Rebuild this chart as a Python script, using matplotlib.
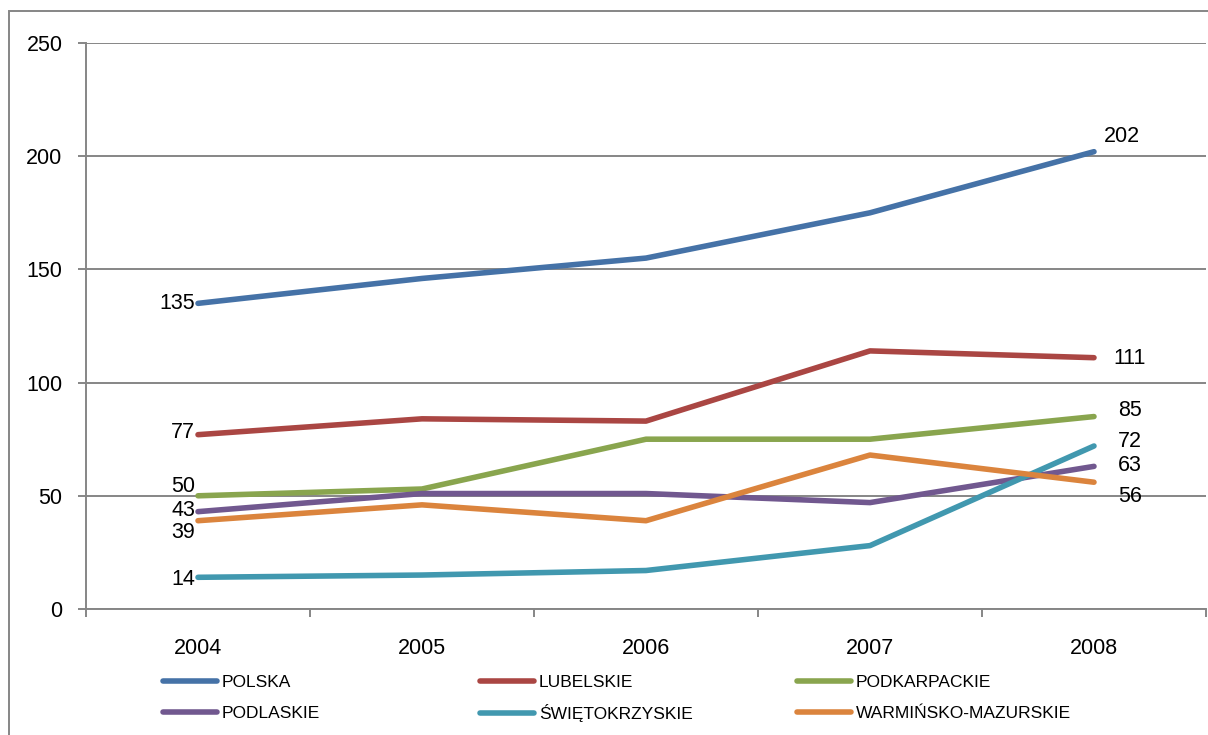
import matplotlib.pyplot as plt
from matplotlib.patches import Rectangle
from matplotlib.lines import Line2D

plt.rcParams['font.family'] = ['Liberation Sans', 'DejaVu Sans']

years = ['2004', '2005', '2006', '2007', '2008']
polska = [135, 146, 155, 175, 202]
lubelskie = [77, 84, 83, 114, 111]
podkarpackie = [50, 53, 75, 75, 85]
podlaskie = [43, 51, 51, 47, 63]
swietokrzyskie = [14, 15, 17, 28, 72]
warminsko = [39, 46, 39, 68, 56]

names = ['POLSKA', 'LUBELSKIE', 'PODKARPACKIE', 'PODLASKIE', 'ŚWIĘTOKRZYSKIE', 'WARMIŃSKO-MAZURSKIE']
series = [polska, lubelskie, podkarpackie, podlaskie, swietokrzyskie, warminsko]
colors = ['#4572A7', '#AA4643', '#89A54E', '#71588F', '#4198AF', '#DB843D']

# label offsets in pixels (first point, last point)
first_off = [(-3, 0), (-3, 2), (-3, 9), (-3, 1), (-3, -2), (-3, -12)]
last_off = [(10, 15), (19, -1), (24, 6), (24, 1), (24, 4), (24, -14)]

fig = plt.figure(figsize=(12.08, 7.35), dpi=100)
ax = fig.add_axes([86 / 1208, 1 - 609 / 735, 1120 / 1208, 566 / 735])

x = list(range(1, len(years) + 1))
for vals, name, c, fo, lo in zip(series, names, colors, first_off, last_off):
    ax.plot(x, vals, color=c, lw=4, solid_capstyle='round', solid_joinstyle='round',
            label=name, zorder=3)
    ax.annotate(str(vals[0]), (x[0], vals[0]), xytext=fo, textcoords='offset pixels',
                ha='right', va='center', fontsize=15.5)
    ax.annotate(str(vals[-1]), (x[-1], vals[-1]), xytext=lo, textcoords='offset pixels',
                ha='left', va='center', fontsize=15.5)

ax.set_xlim(0.5, 5.5)
ax.set_ylim(0, 250)
ax.set_yticks(range(0, 251, 50))
ax.set_xticks(x)
ax.set_xticklabels(years)
ax.set_xticks([i + 0.5 for i in range(0, 6)], minor=True)
ax.grid(axis='y', color='#868686', lw=1.4, zorder=1)
ax.tick_params(axis='y', length=6, width=1.4, color='#868686', pad=11, labelsize=15.5)
ax.tick_params(axis='x', which='major', length=0, pad=21, labelsize=15.5)
ax.tick_params(axis='x', which='minor', length=6, width=1.4, color='#868686')
for s in ['top', 'right']:
    ax.spines[s].set_visible(False)
for s in ['left', 'bottom']:
    ax.spines[s].set_color('#868686')
    ax.spines[s].set_linewidth(1.4)

# outer chart border
fig.patches.append(Rectangle((9 / 1208, -0.1), 1.2, (735 - 11) / 735 + 0.1,
                             transform=fig.transFigure, fill=False,
                             edgecolor='#868686', lw=1.4, zorder=0))

# legend: one entry per legend, laid out in a 3 x 2 grid
col_x = [163, 480, 797]
row_y = [682, 713]
for i, (name, c) in enumerate(zip(names, colors)):
    h = Line2D([], [], color=c, lw=4, solid_capstyle='round')
    fig.legend([h], [name], loc='center left',
               bbox_to_anchor=(col_x[i % 3] / 1208, 1 - row_y[i // 3] / 735), frameon=False,
               fontsize=12.5, handlelength=3.1, handletextpad=0.3, borderpad=0,
               borderaxespad=0)

fig.savefig('out.png', dpi=100)
